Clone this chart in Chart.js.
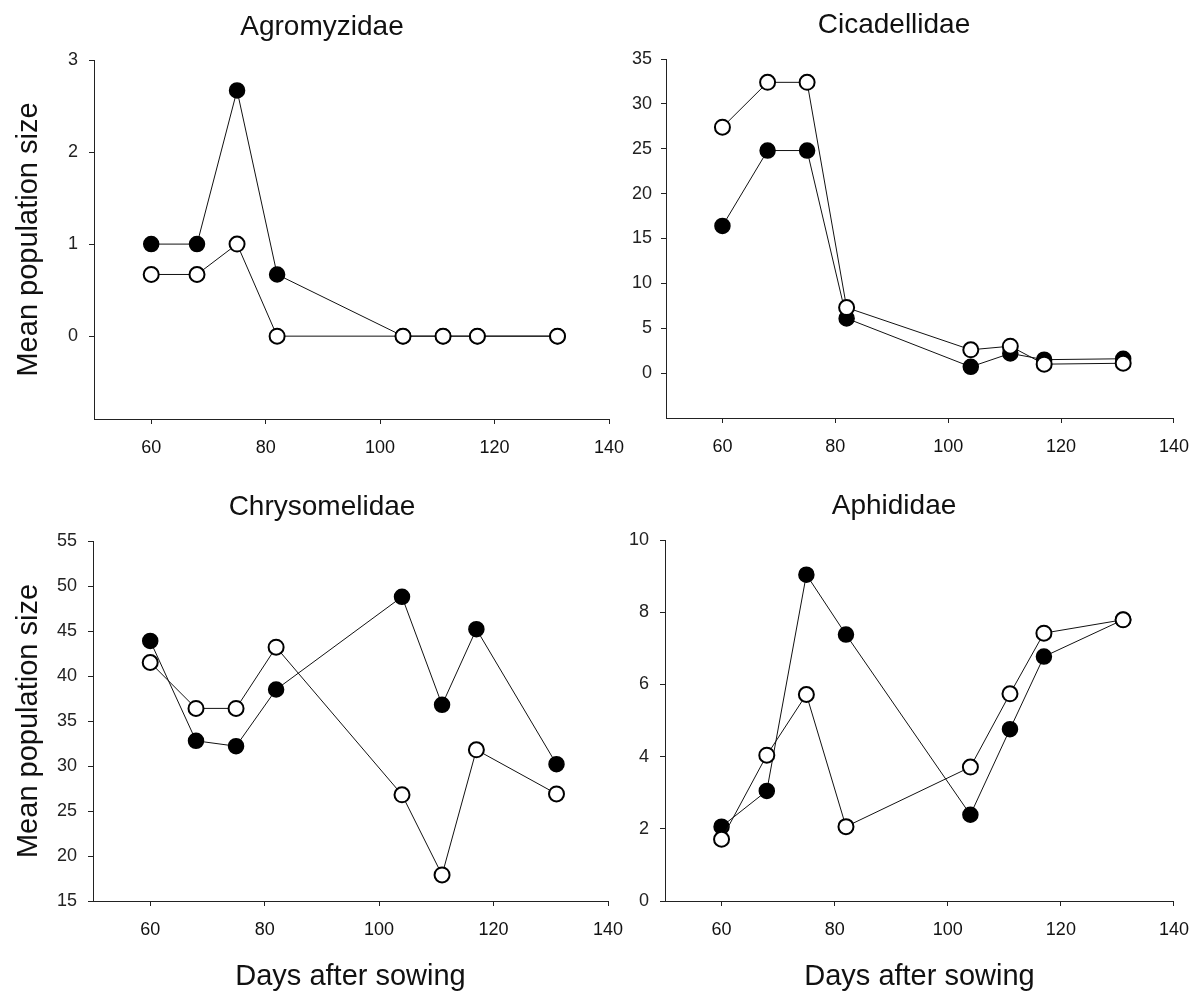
<!DOCTYPE html>
<html><head><meta charset="utf-8">
<script src="https://cdn.jsdelivr.net/npm/chart.js@4.4.1/dist/chart.umd.min.js"></script>
<style>
html,body{margin:0;padding:0;background:#fff;}
body{width:1202px;height:991px;position:relative;overflow:hidden;}
canvas{position:absolute;}
</style></head><body>
<canvas id="c1" width="640" height="470" style="left:0px;top:0px"></canvas>
<canvas id="c2" width="582" height="470" style="left:620px;top:0px"></canvas>
<canvas id="c3" width="640" height="511" style="left:0px;top:480px"></canvas>
<canvas id="c4" width="582" height="511" style="left:620px;top:480px"></canvas>
<script>
// Sampling days (x values)
const days = [60, 68, 75, 82, 104, 111, 117, 131];
const xTicks = [60, 80, 100, 120, 140];

// Agromyzidae
const agroFilled = [1.0, 1.0, 2.67, 0.67, 0, 0, 0, 0];
const agroOpen   = [0.67, 0.67, 1.0, 0, 0, 0, 0, 0];
const agroTicks  = [0, 1, 2, 3];

// Cicadellidae
const cicaFilled = [16.4, 24.8, 24.8, 6.1, 0.7, 2.2, 1.5, 1.6];
const cicaOpen   = [27.4, 32.4, 32.4, 7.3, 2.6, 3.0, 1.0, 1.1];
const cicaTicks  = [0, 5, 10, 15, 20, 25, 30, 35];

// Chrysomelidae
const chryFilled = [43.9, 32.8, 32.2, 38.5, 48.8, 36.8, 45.2, 30.2];
const chryOpen   = [41.5, 36.4, 36.4, 43.2, 26.8, 17.9, 31.8, 26.9];
const chryTicks  = [15, 20, 25, 30, 35, 40, 45, 50, 55];

// Aphididae
const aphiFilled = [2.06, 3.05, 9.04, 7.38, 2.39, 4.76, 6.77, 7.79];
const aphiOpen   = [1.71, 4.04, 5.72, 2.06, 3.71, 5.74, 7.42, 7.79];
const aphiTicks  = [0, 2, 4, 6, 8, 10];

const FONT = '"Liberation Sans", Arial, Helvetica, sans-serif';
const INK = '#111';

function pts(vals) { return days.map((d, i) => ({x: d, y: vals[i]})); }

function makePanel(cfg) {
  const titlePlugin = {
    id: 'panelTitle',
    afterDraw(chart) {
      const ctx = chart.ctx;
      ctx.save();
      ctx.font = '28px ' + FONT;
      ctx.fillStyle = INK;
      ctx.textAlign = 'center';
      ctx.textBaseline = 'middle';
      ctx.fillText(cfg.title, cfg.titleX, cfg.titleY);
      ctx.restore();
    }
  };
  const grid = {display: true, drawOnChartArea: false, drawTicks: true, tickLength: 5, color: '#222', lineWidth: 1};
  const border = {display: true, color: '#222', width: 1};
  new Chart(document.getElementById(cfg.id), {
    type: 'line',
    data: {
      datasets: [
        {
          label: 'open', data: pts(cfg.open), borderColor: INK, borderWidth: 1,
          pointRadius: 7.5, pointBackgroundColor: '#fff', pointBorderColor: '#000', pointBorderWidth: 2,
          fill: false, tension: 0
        },
        {
          label: 'filled', data: pts(cfg.filled), borderColor: INK, borderWidth: 1,
          pointRadius: 7.5, pointBackgroundColor: '#000', pointBorderColor: '#000', pointBorderWidth: 1.5,
          fill: false, tension: 0
        }
      ]
    },
    options: {
      responsive: false, animation: false, devicePixelRatio: 1,
      layout: {padding: cfg.padding},
      plugins: {legend: {display: false}, tooltip: {enabled: false}, title: {display: false}},
      scales: {
        x: {
          type: 'linear', min: 50, max: 140,
          afterBuildTicks: s => { s.ticks = xTicks.map(v => ({value: v})); },
          afterFit: s => { s.height = cfg.xAxisHeight; },
          ticks: {font: {family: FONT, size: 18}, color: INK, padding: 13, maxRotation: 0, autoSkip: false},
          grid: grid, border: border,
          title: {display: !!cfg.xTitle, text: cfg.xTitle || '', font: {family: FONT, size: 29, lineHeight: 1.0}, color: INK, padding: {top: 0, bottom: 0}}
        },
        y: {
          type: 'linear', min: cfg.yMin, max: cfg.yMax,
          afterBuildTicks: s => { s.ticks = cfg.yTicks.map(v => ({value: v})); },
          afterFit: s => { s.width = cfg.yAxisWidth; },
          ticks: {font: {family: FONT, size: 18}, color: '#222', padding: cfg.yLabelPad, autoSkip: false},
          grid: grid, border: border,
          title: {display: !!cfg.yTitle, text: cfg.yTitle || '', font: {family: FONT, size: 29}, color: INK, padding: {top: 12, bottom: 0}}
        }
      }
    },
    plugins: [titlePlugin]
  });
}

makePanel({id: 'c1', title: 'Agromyzidae', titleX: 322, titleY: 27,
  filled: agroFilled, open: agroOpen, yMin: -0.9, yMax: 3, yTicks: agroTicks,
  yTitle: 'Mean population size', xTitle: '',
  yAxisWidth: 94, xAxisHeight: 51, yLabelPad: 11,
  padding: {left: 0, right: 31, top: 60, bottom: 0}});

makePanel({id: 'c2', title: 'Cicadellidae', titleX: 274, titleY: 25,
  filled: cicaFilled, open: cicaOpen, yMin: -5, yMax: 35, yTicks: cicaTicks,
  yTitle: '', xTitle: '',
  yAxisWidth: 46, xAxisHeight: 52, yLabelPad: 9,
  padding: {left: 0, right: 21, top: 59, bottom: 0}});

makePanel({id: 'c3', title: 'Chrysomelidae', titleX: 322, titleY: 27,
  filled: chryFilled, open: chryOpen, yMin: 15, yMax: 55, yTicks: chryTicks,
  yTitle: 'Mean population size', xTitle: 'Days after sowing',
  yAxisWidth: 93, xAxisHeight: 90, yLabelPad: 11,
  padding: {left: 0, right: 32, top: 61, bottom: 0}});

makePanel({id: 'c4', title: 'Aphididae', titleX: 274, titleY: 26,
  filled: aphiFilled, open: aphiOpen, yMin: 0, yMax: 10, yTicks: aphiTicks,
  yTitle: '', xTitle: 'Days after sowing',
  yAxisWidth: 45, xAxisHeight: 90, yLabelPad: 11,
  padding: {left: 0, right: 22, top: 60, bottom: 0}});
</script>
</body></html>
